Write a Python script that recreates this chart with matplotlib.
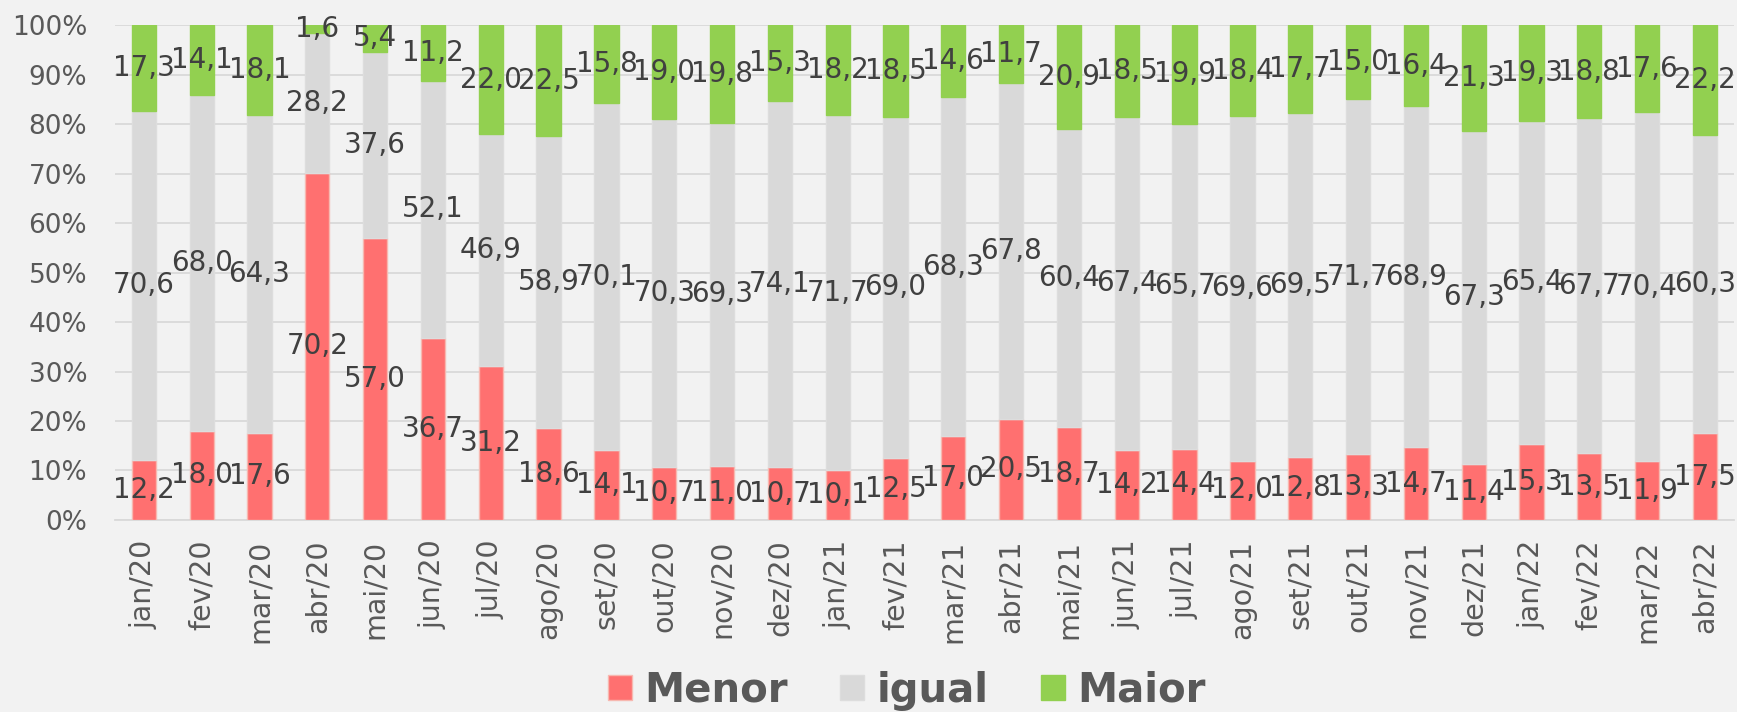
import matplotlib.pyplot as plt
import numpy as np

MONTHS = [
    "jan/20", "fev/20", "mar/20", "abr/20", "mai/20", "jun/20", "jul/20",
    "ago/20", "set/20", "out/20", "nov/20", "dez/20", "jan/21", "fev/21",
    "mar/21", "abr/21", "mai/21", "jun/21", "jul/21", "ago/21", "set/21",
    "out/21", "nov/21", "dez/21", "jan/22", "fev/22", "mar/22", "abr/22",
]

MENOR = [
    12.2, 18.0, 17.6, 70.2, 57.0, 36.7, 31.2, 18.6, 14.1, 10.7, 11.0, 10.7,
    10.1, 12.5, 17.0, 20.5, 18.7, 14.2, 14.4, 12.0, 12.8, 13.3, 14.7, 11.4,
    15.3, 13.5, 11.9, 17.5,
]

IGUAL = [
    70.6, 68.0, 64.3, 28.2, 37.6, 52.1, 46.9, 58.9, 70.1, 70.3, 69.3, 74.1,
    71.7, 69.0, 68.3, 67.8, 60.4, 67.4, 65.7, 69.6, 69.5, 71.7, 68.9, 67.3,
    65.4, 67.7, 70.4, 60.3,
]

MAIOR = [
    17.3, 14.1, 18.1, 1.6, 5.4, 11.2, 22.0, 22.5, 15.8, 19.0, 19.8, 15.3,
    18.2, 18.5, 14.6, 11.7, 20.9, 18.5, 19.9, 18.4, 17.7, 15.0, 16.4, 21.3,
    19.3, 18.8, 17.6, 22.2,
]

SERIES_NAMES = ["Menor", "igual", "Maior"]


def draw_stacked_bars(axis) -> None:
    """Barras 100% empilhadas com rótulos no centro de cada segmento."""
    values = np.array([MENOR, IGUAL, MAIOR], dtype=float)
    shares = values / values.sum(axis=0) * 100

    colors = ["#FF7070", "#D9D9D9", "#92D050"]
    edges = ["#F7B8B0", "#DDDDDD", "#92D050"]

    positions = np.arange(len(MONTHS))
    bottom = np.zeros(len(MONTHS))

    for row, name in enumerate(SERIES_NAMES):
        axis.bar(
            positions,
            shares[row],
            bottom=bottom,
            width=0.42,
            color=colors[row],
            edgecolor=edges[row],
            linewidth=1.0,
            label=name,
            zorder=3,
        )

        for column in range(len(MONTHS)):
            axis.text(
                positions[column],
                bottom[column] + shares[row, column] / 2,
                f"{values[row, column]:.1f}".replace(".", ","),
                ha="center",
                va="center",
                fontsize=20,
                color="#404040",
                zorder=4,
            )

        bottom += shares[row]

    axis.set_xticks(positions)
    axis.set_xticklabels(MONTHS, rotation=90, fontsize=20.5, color="#595959")
    axis.set_xlim(-0.5, len(MONTHS) - 0.5)


def main() -> None:
    figure = plt.figure(figsize=(17.37, 7.12), dpi=100)
    figure.patch.set_facecolor("#F2F2F2")

    axis = figure.add_axes([0.0662, 0.2697, 0.932, 0.695])
    axis.set_facecolor("#F2F2F2")

    draw_stacked_bars(axis)

    axis.set_ylim(0, 100)
    axis.set_yticks(range(0, 101, 10))
    axis.set_yticklabels(
        [f"{tick}%" for tick in range(0, 101, 10)],
        fontsize=19,
        color="#595959",
    )

    axis.grid(axis="y", color="#D9D9D9", linewidth=1.3, zorder=0)
    axis.tick_params(axis="y", length=0, pad=20)
    axis.tick_params(axis="x", length=0, pad=14)

    for side in ["top", "right", "left"]:
        axis.spines[side].set_visible(False)
    axis.spines["bottom"].set_color("#D9D9D9")
    axis.spines["bottom"].set_linewidth(1.3)

    legend = figure.legend(
        loc="center",
        bbox_to_anchor=(0.522, 0.03),
        ncol=3,
        frameon=False,
        prop={"size": 29, "weight": "bold"},
        handlelength=0.6,
        handleheight=0.6,
        handletextpad=0.3,
        columnspacing=1.3,
    )
    for text in legend.get_texts():
        text.set_color("#595959")

    figure.savefig("out.png", dpi=100, facecolor=figure.get_facecolor())
    plt.close(figure)


if __name__ == "__main__":
    main()
